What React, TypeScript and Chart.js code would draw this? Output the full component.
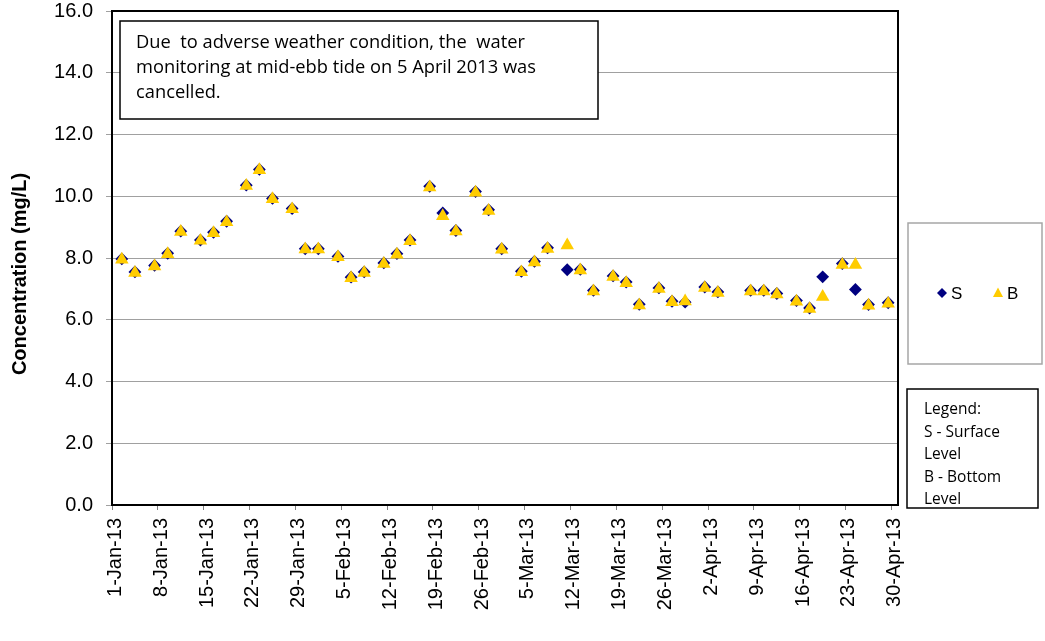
import React, { useEffect, useRef } from "react";
import { Chart, registerables } from "chart.js";

Chart.register(...registerables);

// ---------- data ----------
const tickLabels = [
  "1-Jan-13", "8-Jan-13", "15-Jan-13", "22-Jan-13", "29-Jan-13",
  "5-Feb-13", "12-Feb-13", "19-Feb-13", "26-Feb-13",
  "5-Mar-13", "12-Mar-13", "19-Mar-13", "26-Mar-13",
  "2-Apr-13", "9-Apr-13", "16-Apr-13", "23-Apr-13", "30-Apr-13",
];

const sampleDates = [
  "2013-01-02", "2013-01-04", "2013-01-07", "2013-01-09", "2013-01-11",
  "2013-01-14", "2013-01-16", "2013-01-18", "2013-01-21", "2013-01-23",
  "2013-01-25", "2013-01-28", "2013-01-30", "2013-02-01", "2013-02-04",
  "2013-02-06", "2013-02-08", "2013-02-11", "2013-02-13", "2013-02-15",
  "2013-02-18", "2013-02-20", "2013-02-22", "2013-02-25", "2013-02-27",
  "2013-03-01", "2013-03-04", "2013-03-06", "2013-03-08", "2013-03-11",
  "2013-03-13", "2013-03-15", "2013-03-18", "2013-03-20", "2013-03-22",
  "2013-03-25", "2013-03-27", "2013-03-29", "2013-04-01", "2013-04-03",
  "2013-04-08", "2013-04-10", "2013-04-12", "2013-04-15", "2013-04-17",
  "2013-04-19", "2013-04-22", "2013-04-24", "2013-04-26", "2013-04-29",
];

const surfaceValues = [
  7.97, 7.55, 7.76, 8.15, 8.87,
  8.58, 8.83, 9.19, 10.36, 10.87,
  9.93, 9.6, 8.3, 8.3, 8.05,
  7.38, 7.55, 7.84, 8.14, 8.58,
  10.32, 9.46, 8.89, 10.15, 9.56,
  8.3, 7.57, 7.89, 8.33, 7.62,
  7.63, 6.95, 7.42, 7.22, 6.5,
  7.03, 6.6, 6.57, 7.06, 6.9,
  6.95, 6.95, 6.85, 6.62, 6.38,
  7.39, 7.82, 6.98, 6.49, 6.55,
];

const bottomValues = [
  7.95, 7.52, 7.73, 8.13, 8.85,
  8.56, 8.81, 9.16, 10.34, 10.85,
  9.91, 9.58, 8.28, 8.28, 8.03,
  7.35, 7.52, 7.81, 8.11, 8.55,
  10.29, 9.36, 8.86, 10.12, 9.53,
  8.27, 7.54, 7.86, 8.3, 8.41,
  7.6, 6.92, 7.39, 7.19, 6.47,
  7.0, 6.57, 6.6, 7.03, 6.87,
  6.92, 6.92, 6.82, 6.59, 6.35,
  6.74, 7.78, 7.78, 6.46, 6.52,
];

const yTicks = [0, 2, 4, 6, 8, 10, 12, 14, 16];
const yTitle = "Concentration (mg/L)";
const noteLines = [
  "Due  to adverse weather condition, the  water",
  "monitoring at mid-ebb tide on 5 April 2013 was",
  "cancelled.",
];
const legendNoteLines = ["Legend:", "S - Surface", "Level", "B - Bottom", "Level"];
const seriesNames = ["S", "B"];

// ---------- helpers ----------
const START = Date.UTC(2013, 0, 1);
const DAY = 86400000;
const MONTHS: Record<string, number> = { Jan: 0, Feb: 1, Mar: 2, Apr: 3, May: 4 };
const isoToDay = (s: string) => {
  const [y, m, d] = s.split("-").map(Number);
  return (Date.UTC(y, m - 1, d) - START) / DAY;
};
const labelToDay = (s: string) => {
  const [d, mon, yy] = s.split("-");
  return (Date.UTC(2000 + Number(yy), MONTHS[mon], Number(d)) - START) / DAY;
};
const tickDays = tickLabels.map(labelToDay);
const labelByDay: Record<number, string> = {};
tickDays.forEach((d, i) => (labelByDay[d] = tickLabels[i]));

const NAVY = "#000080";
const GOLD = "#FFCC00";
const AXIS_FONT = '"Liberation Sans", Arial, sans-serif';
const NOTE_FONT = '"Open Sans", "Noto Sans", sans-serif';

const overlayPlugin = {
  id: "overlay",
  afterDraw(chart: any) {
    const { ctx, chartArea: a } = chart;
    ctx.save();
    // plot border
    ctx.strokeStyle = "#000";
    ctx.lineWidth = 2;
    ctx.strokeRect(a.left, a.top, a.right - a.left, a.bottom - a.top);

    // y-axis title
    ctx.save();
    ctx.translate(20, 274);
    ctx.rotate(-Math.PI / 2);
    ctx.font = `bold 20px ${AXIS_FONT}`;
    ctx.fillStyle = "#000";
    ctx.textAlign = "center";
    ctx.textBaseline = "middle";
    ctx.fillText(yTitle, 0, 0);
    ctx.restore();

    // note box
    const bx = a.left + 8, by = a.top + 10, bw = 478, bh = 98;
    ctx.fillStyle = "#fff";
    ctx.fillRect(bx, by, bw, bh);
    ctx.strokeStyle = "#000";
    ctx.lineWidth = 1.5;
    ctx.strokeRect(bx, by, bw, bh);
    ctx.fillStyle = "#000";
    ctx.font = `18.3px ${NOTE_FONT}`;
    ctx.textAlign = "left";
    ctx.textBaseline = "middle";
    noteLines.forEach((t, i) => ctx.fillText(t, bx + 16, by + 22 + i * 25));

    // series legend box
    const lx = a.right + 10, ly = 223, lw = 134, lh = 141;
    ctx.fillStyle = "#fff";
    ctx.fillRect(lx, ly, lw, lh);
    ctx.strokeStyle = "#a6a6a6";
    ctx.lineWidth = 1.5;
    ctx.strokeRect(lx, ly, lw, lh);
    const cy = ly + 70;
    // diamond
    ctx.fillStyle = NAVY;
    ctx.beginPath();
    const dx = lx + 34;
    ctx.moveTo(dx, cy - 5);
    ctx.lineTo(dx + 5, cy);
    ctx.lineTo(dx, cy + 5);
    ctx.lineTo(dx - 5, cy);
    ctx.closePath();
    ctx.fill();
    // triangle
    ctx.fillStyle = GOLD;
    const tx = lx + 90;
    ctx.beginPath();
    ctx.moveTo(tx, cy - 5.5);
    ctx.lineTo(tx + 5, cy + 4);
    ctx.lineTo(tx - 5, cy + 4);
    ctx.closePath();
    ctx.fill();
    ctx.fillStyle = "#000";
    ctx.font = `17px ${AXIS_FONT}`;
    ctx.textBaseline = "middle";
    ctx.fillText(seriesNames[0], lx + 43, cy + 1);
    ctx.fillText(seriesNames[1], lx + 99, cy + 1);

    // legend note box
    const nx = a.right + 9, ny = 389, nw = 131, nh = 119;
    ctx.fillStyle = "#fff";
    ctx.fillRect(nx, ny, nw, nh);
    ctx.strokeStyle = "#000";
    ctx.lineWidth = 1.5;
    ctx.strokeRect(nx, ny, nw, nh);
    ctx.fillStyle = "#000";
    ctx.font = `15.5px ${NOTE_FONT}`;
    legendNoteLines.forEach((t, i) => ctx.fillText(t, nx + 17, ny + 21 + i * 22.5));
    ctx.restore();
  },
};

export default function App() {
  const ref = useRef<HTMLCanvasElement | null>(null);

  useEffect(() => {
    if (!ref.current) return;
    const sData = sampleDates.map((d, i) => ({ x: isoToDay(d) + 0.5, y: surfaceValues[i] }));
    const bData = sampleDates.map((d, i) => ({ x: isoToDay(d) + 0.5, y: bottomValues[i] }));
    const chart = new Chart(ref.current, {
      type: "scatter",
      data: {
        datasets: [
          {
            label: seriesNames[0],
            data: sData,
            pointStyle: "rectRot",
            pointRadius: 6.4,
            backgroundColor: NAVY,
            borderColor: NAVY,
            borderWidth: 0,
            order: 2,
          },
          {
            label: seriesNames[1],
            data: bData,
            pointStyle: "triangle",
            pointRadius: 7.8,
            backgroundColor: GOLD,
            borderColor: GOLD,
            borderWidth: 0,
            order: 1,
          },
        ],
      },
      options: {
        responsive: false,
        animation: false,
        layout: { padding: { left: 0, top: 11, right: 147, bottom: 0 } },
        plugins: { legend: { display: false }, tooltip: { enabled: false } },
        scales: {
          x: {
            type: "linear",
            min: 0,
            max: 120,
            border: { display: false },
            grid: { drawOnChartArea: false, drawTicks: true, tickLength: 5, color: "#808080" },
            afterBuildTicks: (scale: any) => {
              scale.ticks = tickDays.map((v) => ({ value: v }));
            },
            afterFit: (scale: any) => {
              scale.height = 136;
              scale.paddingLeft = 0;
              scale.paddingRight = 0;
            },
            ticks: {
              autoSkip: false,
              minRotation: 90,
              maxRotation: 90,
              padding: 8,
              labelOffset: 3.3,
              color: "#000",
              font: { family: AXIS_FONT, size: 20 },
              callback: (v: any) => labelByDay[v] ?? "",
            },
          },
          y: {
            min: 0,
            max: 16,
            border: { display: false },
            grid: { color: "#a0a0a0", lineWidth: 1, tickLength: 6 },
            afterBuildTicks: (scale: any) => {
              scale.ticks = yTicks.map((v) => ({ value: v }));
            },
            afterFit: (scale: any) => {
              scale.width = 112;
              scale.paddingTop = 0;
              scale.paddingBottom = 0;
            },
            ticks: {
              padding: 13,
              color: "#000",
              font: { family: AXIS_FONT, size: 20 },
              callback: (v: any) => Number(v).toFixed(1),
            },
          },
        },
      },
      plugins: [overlayPlugin],
    });
    return () => chart.destroy();
  }, []);

  return (
    <div style={{ position: "absolute", left: 0, top: 0, width: 1045, height: 641, background: "#fff" }}>
      <canvas ref={ref} width={1045} height={641} style={{ display: "block" }} />
    </div>
  );
}
